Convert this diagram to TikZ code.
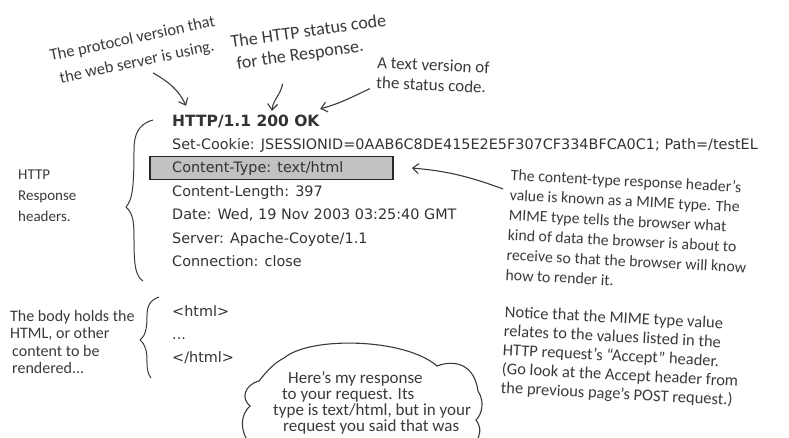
\documentclass[tikz,border=0pt]{standalone}
\usepackage{fontspec}
\usepackage{tikz}
\usetikzlibrary{positioning, arrows.meta}
\newfontfamily\hdrfont{DejaVu Sans}
\newfontfamily\handfont{Carlito}
\definecolor{ink}{HTML}{333333}
\definecolor{pen}{HTML}{3A3A3A}
\definecolor{boxgray}{HTML}{C2C2C2}

\begin{document}
\begin{tikzpicture}[x=1pt, y=-1pt]
\tikzstyle{hline} = [anchor=west, inner xsep=0pt, inner ysep=5pt, text height=10pt, text depth=3pt, text=ink, font=\hdrfont\fontsize{14.4}{17}\selectfont]
\tikzstyle{note} = [inner sep=0pt, align=left, text=pen, font=\handfont\fontsize{15.8}{20}\selectfont]
\tikzstyle{pointer} = [-{Straight Barb[length=6pt, width=10pt]}, line width=1.1pt, draw=pen]
\tikzstyle{brace} = [line width=1pt, draw=pen]

\useasboundingbox (0,0) rectangle (789,437);

% Выделение строки Content-Type
\node[draw=black!85, fill=boxgray, line width=1.6pt, minimum width=243pt, minimum height=23pt, inner sep=0pt] (ctbox) at (271.5,168) {};

% Строки ответа
\node[hline] (l1) at (172,122.5) {\fontsize{15.5}{17}\selectfont\textbf{HTTP/1.1 200 OK}};
\node[hline] (l2) [below right=0pt of l1.south west] {Set-Cookie: JSESSIONID=0AAB6C8DE415E2E5F307CF334BFCA0C1; Path=/testEL};
\node[hline] (l3) [below right=0pt of l2.south west] {Content-Type: text/html};
\node[hline] (l4) [below right=0pt of l3.south west] {Content-Length: 397};
\node[hline] (l5) [below right=0pt of l4.south west] {Date: Wed, 19 Nov 2003 03:25:40 GMT};
\node[hline] (l6) [below right=0pt of l5.south west] {Server: Apache-Coyote/1.1};
\node[hline] (l7) [below right=0pt of l6.south west] {Connection: close};

\node[hline] (b1) at (172,312.5) {<html>};
\node[hline] (b2) [below right=0pt of b1.south west] {...};
\node[hline] (b3) [below right=0pt of b2.south west] {</html>};

% Пояснения
\node[note, rotate=12, font=\handfont\fontsize{16.5}{24}\selectfont] (proto) at (135,51) {The protocol version that\\\hspace*{5pt}the web server is using.};
\node[note, rotate=8, font=\handfont\fontsize{18}{22}\selectfont] (status) at (310,43) {The HTTP status code\\\hspace*{3pt}for the Response.};
\node[note, rotate=-2.5, font=\handfont\fontsize{17}{20}\selectfont] (textver) at (433,75) {A text version of\\the status code.};
\node[note, anchor=west, font=\handfont\fontsize{15}{21}\selectfont] (hdrs) at (18,196) {HTTP\\Response\\headers.};
\node[note, rotate=-3] (mime) at (628,231) {The content-type response header’s\\value is known as a MIME type. The\\MIME type tells the browser what\\kind of data the browser is about to\\receive so that the browser will know\\how to render it.};
\node[note, rotate=-3, font=\handfont\fontsize{16.5}{19}\selectfont] (notice) at (621,357) {Notice that the MIME type value\\relates to the values listed in the\\HTTP request’s “Accept” header.\\(Go look at the Accept header from\\the previous page’s POST request.)};
\node[note, anchor=west, font=\handfont\fontsize{16}{17.5}\selectfont] (body) at (10,342) {The body holds the\\HTML, or other\\\hspace*{2pt}content to be\\\hspace*{2pt}rendered...};

% Стрелки
\draw[pointer] ([xshift=14pt, yshift=-3pt]proto.south) to[out=-30, in=115] ([xshift=14pt, yshift=5pt]l1.north west);
\draw[pointer] ([xshift=-30pt, yshift=-22pt]status.south) to[out=-100, in=85] ([xshift=100pt]l1.north west);
\draw[pointer] ([xshift=-6pt]textver.south west) to[out=205, in=15] ([yshift=2pt]l1.north east);
\draw[pointer] ([xshift=-8pt, yshift=-20pt]mime.north west) to[out=160, in=-5] ([xshift=18pt]ctbox.east);

% Фигурные скобки
\draw[brace] (153,120) .. controls (138,124) and (134,135) .. (134,150) .. controls (134,190) and (132,200) .. (126,207) .. controls (134,214) and (134,225) .. (134,240) .. controls (134,268) and (136,276) .. (143,281);
\draw[brace] (159,297) .. controls (150,300) and (147,306) .. (147,316) .. controls (147,330) and (145,336) .. (140,340) .. controls (146,345) and (147,352) .. (147,362) .. controls (147,370) and (148,374) .. (151,378);

% Облако с репликой
\begin{scope}
\clip (0,0) rectangle (789,437);
\draw[line width=1.1pt, pen] (247,440) .. controls (240,428) and (241,414) .. (250,406)
  .. controls (241,399) and (244,385) .. (259,381)
  .. controls (266,372) and (274,363) .. (284,358)
  .. controls (310,336) and (405,338) .. (437,366)
  .. controls (452,360) and (474,362) .. (478,391)
  .. controls (485,402) and (482,414) .. (476,420)
  .. controls (482,428) and (480,436) .. (476,442);
\end{scope}
\node[note, anchor=west, font=\handfont\fontsize{17}{16}\selectfont] (reply) at (273,403) {\hspace*{15pt}Here’s my response\\\hspace*{9pt}to your request. Its\\type is text/html, but in your\\\hspace*{10pt}request you said that was};

\end{tikzpicture}
\end{document}
